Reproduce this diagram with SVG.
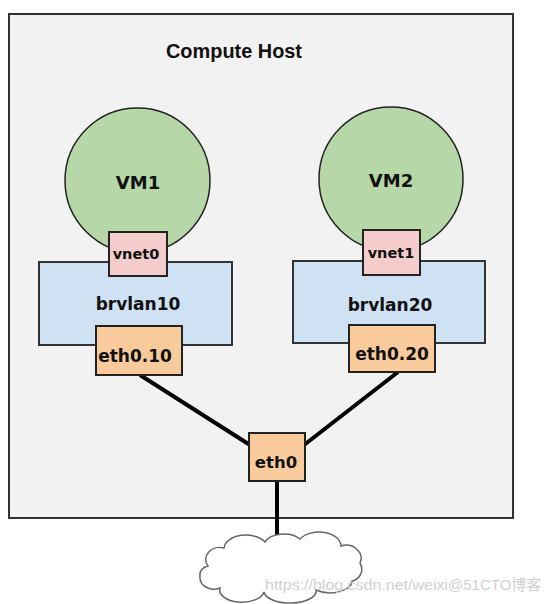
<svg xmlns="http://www.w3.org/2000/svg" width="546" height="604" viewBox="0 0 546 604">
<style>
.lbl{font-family:"DejaVu Sans","Liberation Sans",sans-serif;font-weight:bold;fill:#111;text-anchor:middle}
.vm{fill:#b6d7a8;stroke:#222;stroke-width:1.5}
.vnet{fill:#f4cccc;stroke:#222;stroke-width:2}
.br{fill:#cfe2f3;stroke:#333;stroke-width:2}
.eth{fill:#f9cb9c;stroke:#222;stroke-width:2}
.wire{stroke:#000;stroke-width:4;fill:none}
.wm{font-family:"Liberation Sans","Noto Sans CJK SC",sans-serif;font-size:15px;fill:#d0d0d0}
</style>
<rect width="546" height="604" fill="#fff"/>
<g id="host">
<rect x="9" y="14" width="504" height="504" fill="#f2f2f2" stroke="#333" stroke-width="2"/>
<text x="234" y="58" font-family="Liberation Sans, Arial, sans-serif" font-weight="bold" font-size="20" fill="#111" text-anchor="middle" textLength="136" lengthAdjust="spacingAndGlyphs">Compute Host</text>
</g>
<g id="connectors">
<line class="wire" x1="140" y1="375" x2="250" y2="445"/>
<line class="wire" x1="398" y1="372" x2="304" y2="445"/>
<line class="wire" x1="277" y1="481" x2="277" y2="543"/>
</g>
<g id="vm1">
<circle class="vm" cx="137.5" cy="180.5" r="72.5"/>
<text class="lbl" x="138" y="189" font-size="18">VM1</text>
</g>
<g id="vm2">
<circle class="vm" cx="391" cy="179" r="72"/>
<text class="lbl" x="391" y="187" font-size="18">VM2</text>
</g>
<g id="brvlan10">
<rect class="br" x="39" y="262" width="193" height="83"/>
<text class="lbl" x="138" y="310" font-size="17">brvlan10</text>
</g>
<g id="brvlan20">
<rect class="br" x="293" y="261" width="192" height="82"/>
<text class="lbl" x="390" y="311" font-size="17">brvlan20</text>
</g>
<g id="vnet0">
<rect class="vnet" x="109" y="232" width="58" height="44"/>
<text class="lbl" x="136" y="259" font-size="14.5">vnet0</text>
</g>
<g id="vnet1">
<rect class="vnet" x="363" y="230" width="57" height="45"/>
<text class="lbl" x="391" y="258" font-size="14.5">vnet1</text>
</g>
<g id="eth0_10">
<rect class="eth" x="96" y="326" width="86" height="49"/>
<text class="lbl" x="135" y="362" font-size="17">eth0.10</text>
</g>
<g id="eth0_20">
<rect class="eth" x="349" y="325" width="86" height="47"/>
<text class="lbl" x="392" y="360" font-size="17">eth0.20</text>
</g>
<g id="eth0">
<rect class="eth" x="249" y="433" width="56" height="48"/>
<text class="lbl" x="276" y="468" font-size="16.5">eth0</text>
</g>
<g id="cloud">
<path d="M208,566 A14,12 0 0 1 224,548 A22,14 0 0 1 265,542 A20,12 0 0 1 300,539 A22,14 0 0 1 341,546 A15,13 0 0 1 360,563 A12,12 0 0 1 352,581 A22,12 0 0 1 316,590 A26,12 0 0 1 264,592 A22,12 0 0 1 220,588 A14,12 0 0 1 200,576 A10,9 0 0 1 208,566 Z" fill="#fff" stroke="#666" stroke-width="1.5"/>
</g>
<g id="watermark">
<text class="wm" x="265" y="590" textLength="183" lengthAdjust="spacingAndGlyphs">https://blog.csdn.net/weixi</text>
<text class="wm" x="448" y="590">@51CTO博客</text>
</g>
</svg>
